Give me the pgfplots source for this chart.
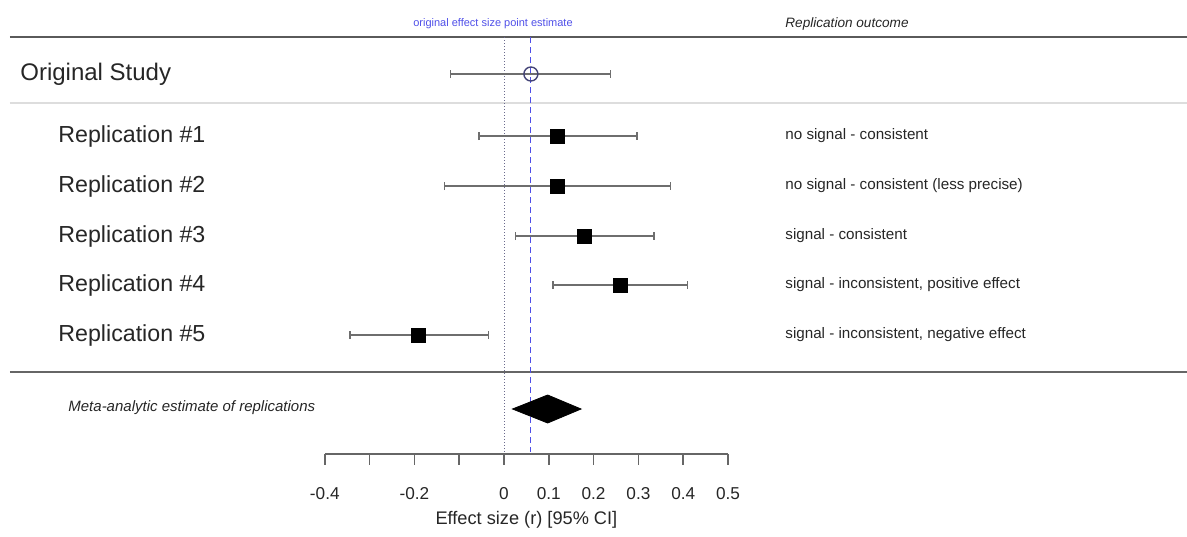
\documentclass[border=0pt]{standalone}
\usepackage{pgfplots}
\pgfplotsset{compat=1.18}
\usepackage{pgfplotstable}
\usepackage{fontspec}
\setmainfont{Liberation Sans}
\definecolor{ruledark}{HTML}{5A5A5A}
\definecolor{rulelight}{HTML}{DDDDDD}
\definecolor{axisgray}{HTML}{666666}
\definecolor{cigray}{HTML}{555555}
\definecolor{zeroline}{HTML}{6A6A8C}
\definecolor{refblue}{HTML}{4F4FE8}
\tikzset{
  rowlbl/.style={anchor=west, inner xsep=0pt, font=\fontsize{11.6}{14}\selectfont, text=black!85},
  outlbl/.style={anchor=west, inner xsep=0pt, font=\fontsize{7.6}{9}\selectfont, text=black!85},
}

% rows: y is the row position (top = 0), est and CI bounds in r
\pgfplotstableread{
y   est    lo      hi
74  0.060  -0.119  0.238
}\original
\pgfplotstableread{
y   est    lo      hi
136 0.120  -0.056  0.297
186 0.120  -0.133  0.372
236 0.180   0.025  0.335
285 0.260   0.109  0.409
335 -0.190 -0.344  -0.035
}\reps

\begin{document}
\begin{tikzpicture}
\useasboundingbox (0,0) rectangle (593.5pt,268pt);
\begin{axis}[
    at={(0,0)}, anchor=south west,
    x=224pt, y=0.5pt, y dir=reverse,
    xmin=-1.125, xmax=1.5246, ymin=0, ymax=536,
    hide axis, clip=false,
]
% rules
\draw[ruledark, line width=1pt] (axis cs:-1.1027,37) -- (axis cs:1.5246,37);
\draw[rulelight, line width=1pt] (axis cs:-1.1027,103) -- (axis cs:1.5246,103);
\draw[axisgray, line width=0.9pt] (axis cs:-1.1027,372) -- (axis cs:1.5246,372);
% reference lines
\draw[zeroline, densely dotted, line width=0.5pt] (axis cs:0,37) -- (axis cs:0,452);
\draw[refblue, densely dashed, line width=0.5pt] (axis cs:0.06,37) -- (axis cs:0.06,452);

% headers
\node[refblue, font=\fontsize{5.5}{6}\selectfont] at (axis cs:-0.0246,24) {original effect size point estimate};
\node[outlbl, font=\fontsize{6.8}{8}\selectfont\itshape] at (axis cs:0.6272,24) {Replication outcome};

% row labels
\node[rowlbl, font=\fontsize{12}{14}\selectfont] at (axis cs:-1.0804,74) {Original Study};
\node[rowlbl] at (axis cs:-0.9955,136) {Replication \#1};
\node[rowlbl] at (axis cs:-0.9955,186) {Replication \#2};
\node[rowlbl] at (axis cs:-0.9955,236) {Replication \#3};
\node[rowlbl] at (axis cs:-0.9955,285) {Replication \#4};
\node[rowlbl] at (axis cs:-0.9955,335) {Replication \#5};
\node[outlbl] at (axis cs:0.6272,136) {no signal - consistent};
\node[outlbl] at (axis cs:0.6272,186) {no signal - consistent (less precise)};
\node[outlbl] at (axis cs:0.6272,236) {signal - consistent};
\node[outlbl] at (axis cs:0.6272,285) {signal - inconsistent, positive effect};
\node[outlbl] at (axis cs:0.6272,335) {signal - inconsistent, negative effect};
\node[outlbl, font=\fontsize{7.5}{9}\selectfont\itshape] at (axis cs:-0.9732,408) {Meta-analytic estimate of replications};

% original study
\addplot[only marks, mark=o, mark size=3.5pt, draw=cigray!80!blue, line width=0.7pt,
  error bars/.cd, x dir=both, x explicit,
  error bar style={cigray!85, line width=0.7pt},
  error mark options={rotate=90, cigray!85, mark size=2pt, line width=0.7pt}]
  table[x=est, y=y, x error plus expr=\thisrow{hi}-\thisrow{est},
        x error minus expr=\thisrow{est}-\thisrow{lo}] {\original};
% replications
\addplot[only marks, mark=square*, mark size=3.5pt, black,
  error bars/.cd, x dir=both, x explicit,
  error bar style={cigray!85, line width=0.7pt},
  error mark options={rotate=90, cigray!85, mark size=2pt, line width=0.7pt}]
  table[x=est, y=y, x error plus expr=\thisrow{hi}-\thisrow{est},
        x error minus expr=\thisrow{est}-\thisrow{lo}] {\reps};
% meta-analytic diamond
\addplot[fill=black, draw=black] coordinates {(0.019,409) (0.0975,395) (0.172,409) (0.0975,423)} -- cycle;
\end{axis}

\begin{axis}[
    at={(162.4pt,41pt)}, anchor=south west,
    x=224pt, y=1pt,
    xmin=-0.4, xmax=0.5, ymin=0, ymax=1,
    hide y axis,
    axis x line=bottom,
    x axis line style={-, axisgray, line width=0.8pt},
    xtick={-0.4,-0.3,-0.2,-0.1,0,0.1,0.2,0.3,0.4,0.5},
    xticklabels={-0.4,,-0.2,,0,0.1,0.2,0.3,0.4,0.5},
    tick align=outside, major tick length=5.5pt,
    tick style={axisgray, line width=0.8pt},
    xticklabel style={font=\fontsize{8.6}{10}\selectfont, text=black!85, yshift=-7.5pt},
    xlabel={Effect size (r) [95\% CI]},
    xlabel style={at={(axis description cs:0.5,0)}, anchor=center, yshift=-33pt,
      font=\fontsize{9.1}{11}\selectfont, text=black!85},
]
\end{axis}
\end{tikzpicture}
\end{document}
